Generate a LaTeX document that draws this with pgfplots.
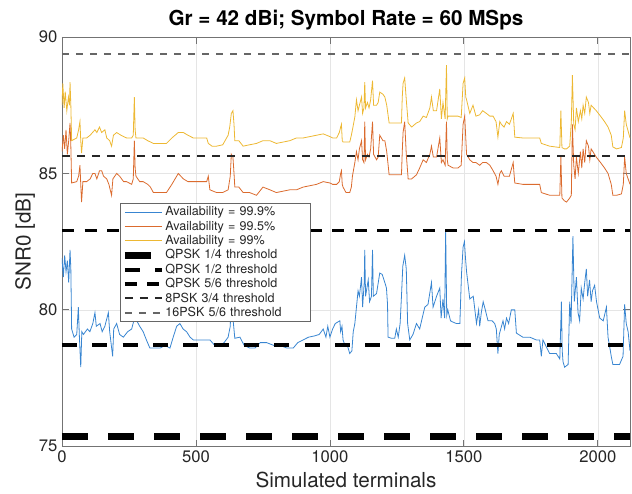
\documentclass[border=0pt]{standalone}
\usepackage{fontspec}
\setmainfont{TeX Gyre Heros}
\usepackage{pgfplots}
\pgfplotsset{compat=1.18}
\definecolor{mblue}{rgb}{0.22,0.52,0.82}
\definecolor{morange}{rgb}{0.86,0.42,0.18}
\definecolor{myellow}{rgb}{0.93,0.72,0.2}
\definecolor{axgray}{rgb}{0.15,0.15,0.15}
\begin{document}
\begin{tikzpicture}
\useasboundingbox (-46.5pt,-35pt) rectangle (427.5pt,334.75pt);
\begin{axis}[
  scale only axis, width=426pt, height=307pt,
  xmin=0, xmax=2120, ymin=75, ymax=90,
  xtick={0,500,1000,1500,2000}, ytick={75,80,85,90},
  grid=major, grid style={black!10, line width=0.5pt},
  axis line style={black!55, line width=0.7pt},
  tick align=inside, tick style={black!55, line width=0.6pt}, major tick length=5pt,
  ticklabel style={font=\fontsize{12.5}{14}\selectfont, text=axgray},
  /pgf/number format/assume math mode=true,
  /pgf/number format/1000 sep={},
  xlabel={Simulated terminals}, ylabel={SNR0 [dB]},
  xlabel style={font=\fontsize{15.5}{18}\selectfont, text=axgray, at={(axis description cs:0.5,0)}, anchor=center, yshift=-25pt},
  ylabel style={font=\fontsize{15.5}{18}\selectfont, text=axgray, at={(axis description cs:-0.065,0.5)}, anchor=center},
  title={Gr = 42 dBi; Symbol Rate = 60 MSps},
  title style={font=\fontsize{15.5}{18}\selectfont\bfseries, at={(axis description cs:0.5,1)}, anchor=center, yshift=7pt},
  legend cell align=left,
  legend style={at={(axis description cs:0.102,0.594)}, anchor=north west,
    font=\fontsize{9.4}{11}\selectfont, text=axgray, draw=black!60, fill=white,
    inner sep=1pt, row sep=0pt,
    nodes={inner sep=0.4pt, text height=7.8pt, text depth=2.2pt},
    /tikz/every even column/.append style={text width=107pt}},
  legend image code/.code={\draw[#1] (0pt,0pt) -- (27.5pt,0pt);},
]
\addplot[mblue, line width=0.6pt] coordinates {
(0,81.9)(5,81.2)(10,82.0)(15,81.4)(20,81.8)(25,81.0)(30,82.2)(33,81.5)(36,79.3)(45,79.0)(55,79.1)(61,80.1)(65,79.0)(70,77.9)(74,79.2)(80,79.1)(95,79.3)(104,79.2)(115,79.5)(123,79.9)(128,79.4)(142,79.5)(150,79.2)(160,79.4)(173,79.9)(178,79.2)(189,78.3)(193,79.3)(204,79.5)(215,79.1)(229,79.0)(245,79.2)(260,79.3)(268,79.6)(270,80.6)(273,79.6)(279,79.6)(290,79.4)(303,79.2)(315,78.9)(328,78.6)(345,78.6)(366,78.6)(385,78.7)(403,78.6)(415,79.0)(428,79.4)(440,79.5)(452,79.3)(465,79.2)(478,79.0)(490,78.9)(510,78.9)(533,78.9)(552,78.9)(570,78.7)(589,78.7)(605,78.8)(620,79.0)(628,79.4)(633,81.0)(637,79.8)(645,78.96)(664,79.0)(680,78.7)(701,78.6)(720,78.6)(740,78.8)(764,78.8)(790,78.7)(813,78.7)(840,78.6)(863,78.6)(880,78.8)(900,78.9)(920,79.0)(944,79.05)(960,79.1)(975,79.3)(985,79.0)(992,79.4)(1000,79.0)(1010,79.3)(1020,79.5)(1037,79.6)(1040,79.2)(1045,79.4)(1049,78.9)(1056,78.7)(1065,78.7)(1074,78.4)(1082,78.5)(1087,79.2)(1093,79.5)(1099,80.1)(1105,80.7)(1110,80.5)(1118,81.2)(1122,80.1)(1128,81.0)(1130,82.2)(1133,80.5)(1138,80.8)(1143,81.1)(1148,80.3)(1155,80.5)(1159,82.2)(1162,80.5)(1174,80.6)(1186,81.35)(1195,81.3)(1205,81.0)(1211,80.8)(1215,80.2)(1217,79.0)(1230,78.96)(1242,78.96)(1248,79.3)(1255,79.0)(1262,79.5)(1267,80.5)(1272,81.6)(1279,82.0)(1285,81.5)(1290,79.5)(1298,78.9)(1310,79.1)(1323,79.5)(1335,79.3)(1342,79.6)(1354,80.1)(1366,80.2)(1379,81.0)(1385,80.1)(1398,80.5)(1410,80.8)(1415,79.7)(1422,80.4)(1428,79.7)(1432,82.9)(1436,79.8)(1440,80.0)(1450,79.6)(1460,79.55)(1472,79.5)(1485,79.5)(1491,81.3)(1497,82.3)(1502,82.5)(1506,81.9)(1510,81.4)(1522,80.4)(1535,80.5)(1547,79.5)(1555,80.0)(1559,79.4)(1565,79.9)(1572,80.3)(1580,80.0)(1590,79.6)(1605,79.6)(1615,79.5)(1621,79.3)(1627,78.4)(1632,79.1)(1646,79.6)(1652,79.3)(1659,79.7)(1667,79.5)(1677,80.0)(1690,80.0)(1696,79.15)(1720,79.0)(1746,79.0)(1770,78.9)(1783,78.9)(1789,78.3)(1795,78.9)(1820,78.4)(1845,78.4)(1858,78.2)(1864,80.3)(1867,78.5)(1870,78.1)(1876,77.9)(1889,78.0)(1895,80.3)(1900,79.5)(1907,82.7)(1912,80.3)(1920,81.2)(1926,79.9)(1932,79.6)(1938,80.8)(1945,80.4)(1951,81.0)(1957,81.5)(1962,80.5)(1969,81.1)(1975,80.3)(1980,80.7)(1988,80.9)(1995,80.3)(2007,79.7)(2020,79.6)(2032,80.1)(2038,79.0)(2045,78.6)(2050,78.3)(2056,78.0)(2081,78.0)(2094,78.3)(2100,80.2)(2106,79.5)(2113,79.2)(2120,78.5)
};
\addlegendentry{Availability = 99.9\%}
\addplot[morange, line width=0.6pt] coordinates {
(0,85.8)(5,86.4)(10,85.9)(15,86.6)(20,85.7)(25,86.2)(30,86.85)(33,86.0)(36,84.65)(55,84.7)(62,84.9)(67,85.3)(70,84.6)(73,83.95)(78,84.7)(92,84.7)(105,84.8)(115,85.0)(123,85.0)(130,84.8)(140,85.1)(148,85.1)(155,84.9)(167,84.8)(175,84.6)(185,84.2)(190,84.8)(204,85.0)(215,84.9)(230,84.7)(241,84.7)(260,84.6)(266,84.8)(270,86.2)(273,85.2)(276,84.9)(290,84.7)(303,84.7)(320,84.6)(330,84.5)(341,84.3)(360,84.3)(390,84.3)(410,84.6)(434,85.0)(453,84.8)(470,84.7)(490,84.7)(515,84.7)(540,84.7)(546,84.9)(552,84.4)(577,84.3)(600,84.3)(620,84.4)(628,84.9)(632,85.7)(638,85.6)(642,85.0)(645,84.5)(660,84.5)(676,84.3)(700,84.3)(726,84.2)(750,84.5)(776,84.4)(800,84.3)(825,84.35)(850,84.4)(875,84.4)(900,84.5)(925,84.55)(950,84.6)(975,84.7)(1000,84.65)(1010,84.6)(1025,84.6)(1035,84.7)(1040,85.0)(1043,85.1)(1046,84.6)(1049,84.5)(1060,84.3)(1074,84.3)(1080,84.5)(1084,84.9)(1093,85.4)(1099,85.8)(1105,85.5)(1110,85.9)(1118,86.2)(1122,85.5)(1127,85.4)(1130,86.9)(1133,85.5)(1140,85.7)(1146,85.6)(1152,85.9)(1159,86.9)(1163,85.7)(1174,85.5)(1180,85.6)(1186,86.4)(1198,86.2)(1205,86.2)(1212,85.8)(1221,84.95)(1240,84.95)(1267,84.95)(1270,85.8)(1273,86.5)(1279,86.9)(1285,85.7)(1292,84.8)(1305,84.8)(1323,84.95)(1335,85.2)(1348,85.5)(1360,85.4)(1373,85.7)(1379,86.0)(1386,85.6)(1398,85.6)(1410,86.3)(1416,85.4)(1422,85.5)(1430,85.3)(1435,86.9)(1438,85.5)(1441,85.3)(1460,85.2)(1478,85.2)(1490,85.3)(1497,86.8)(1503,87.1)(1507,86.3)(1510,85.7)(1522,85.5)(1534,85.4)(1545,85.4)(1559,85.3)(1570,85.4)(1584,85.4)(1597,85.3)(1609,85.1)(1620,84.9)(1627,84.6)(1634,85.0)(1640,85.1)(1650,84.9)(1659,84.9)(1670,84.9)(1684,85.4)(1687,85.0)(1690,84.65)(1720,84.6)(1750,84.6)(1783,84.6)(1789,84.3)(1820,84.2)(1858,84.2)(1862,85.6)(1866,84.1)(1875,84.0)(1883,83.95)(1895,84.1)(1901,84.2)(1905,86.8)(1910,85.3)(1915,84.8)(1920,85.6)(1927,85.0)(1935,85.8)(1940,85.2)(1945,85.9)(1951,85.4)(1957,86.2)(1965,86.0)(1970,85.5)(1975,85.9)(1994,85.6)(2010,85.4)(2025,85.2)(2038,85.0)(2050,84.6)(2056,84.2)(2070,84.2)(2088,84.25)(2095,84.6)(2100,85.6)(2106,85.0)(2120,84.6)
};
\addlegendentry{Availability = 99.5\%}
\addplot[myellow, line width=0.6pt] coordinates {
(0,87.5)(3,88.3)(8,87.4)(12,88.0)(18,87.3)(24,87.8)(28,87.5)(30,88.35)(33,87.5)(36,86.2)(55,86.3)(62,86.6)(67,86.9)(70,86.2)(73,85.75)(78,86.3)(92,86.3)(105,86.4)(123,86.6)(130,86.5)(140,86.7)(148,86.5)(160,86.6)(167,86.3)(178,86.2)(185,86.0)(192,86.4)(204,86.5)(220,86.4)(241,86.3)(260,86.3)(266,86.4)(270,87.8)(273,86.6)(276,86.3)(290,86.3)(303,86.3)(320,86.2)(341,86.1)(360,86.1)(390,86.1)(410,86.3)(434,86.5)(453,86.5)(470,86.4)(490,86.3)(515,86.3)(540,86.3)(546,86.1)(560,86.0)(577,86.0)(600,86.05)(620,86.4)(626,86.7)(632,87.2)(638,87.3)(642,86.8)(645,86.2)(660,86.2)(676,86.0)(700,86.05)(726,86.1)(750,86.2)(776,86.2)(800,86.1)(825,86.15)(850,86.2)(875,86.3)(900,86.3)(925,86.35)(950,86.4)(975,86.45)(1000,86.35)(1010,86.3)(1025,86.3)(1035,86.5)(1040,86.7)(1043,86.8)(1046,86.2)(1049,86.15)(1074,86.15)(1080,86.4)(1084,86.6)(1093,87.07)(1099,87.7)(1105,87.3)(1110,87.5)(1118,87.8)(1122,87.2)(1127,87.4)(1130,88.35)(1133,87.4)(1140,87.6)(1146,87.4)(1152,87.7)(1159,88.4)(1163,87.5)(1174,87.5)(1180,87.6)(1186,87.98)(1198,87.9)(1205,87.8)(1212,87.5)(1221,86.85)(1240,86.85)(1267,86.85)(1270,87.8)(1273,88.3)(1279,88.5)(1285,87.7)(1292,86.85)(1305,86.7)(1323,86.85)(1335,86.9)(1348,87.1)(1360,87.05)(1373,87.4)(1379,87.8)(1386,87.3)(1398,87.3)(1410,88.1)(1416,87.0)(1422,87.6)(1430,87.0)(1435,88.97)(1438,87.0)(1441,87.1)(1460,87.1)(1478,87.1)(1490,87.05)(1497,88.3)(1503,88.5)(1507,87.8)(1510,87.7)(1522,87.2)(1534,87.5)(1545,87.1)(1559,87.15)(1570,87.3)(1584,87.2)(1597,87.1)(1609,87.1)(1620,86.9)(1627,86.33)(1634,86.9)(1640,86.8)(1650,86.7)(1659,86.9)(1670,86.8)(1684,87.2)(1687,86.8)(1690,86.33)(1720,86.3)(1750,86.3)(1783,86.3)(1789,86.1)(1820,86.0)(1858,85.95)(1862,87.3)(1866,85.95)(1875,85.9)(1883,85.9)(1895,86.0)(1901,86.9)(1905,88.6)(1910,86.8)(1915,86.6)(1920,87.4)(1927,86.9)(1935,87.3)(1940,87.0)(1945,87.5)(1951,87.2)(1957,87.8)(1965,87.6)(1970,87.2)(1975,87.5)(1994,87.3)(2010,87.1)(2025,86.9)(2038,86.7)(2050,86.4)(2056,85.97)(2070,85.9)(2088,85.95)(2095,86.3)(2100,87.3)(2106,86.8)(2120,86.3)
};
\addlegendentry{Availability = 99\%}
\addplot[black, line width=5pt, dash pattern=on 19.5pt off 15pt] coordinates {(0,75.35)(2120,75.35)};
\addlegendentry{QPSK 1/4 threshold}
\addplot[black, line width=3pt, dash pattern=on 11.25pt off 11.5pt] coordinates {(0,78.72)(2120,78.72)};
\addlegendentry{QPSK 1/2 threshold}
\addplot[black, line width=2.4pt, dash pattern=on 9pt off 7.9pt] coordinates {(0,82.9)(2120,82.9)};
\addlegendentry{QPSK 5/6 threshold}
\addplot[black!85, line width=1.6pt, dash pattern=on 6pt off 5.25pt] coordinates {(0,85.64)(2120,85.64)};
\addlegendentry{8PSK 3/4 threshold}
\addplot[black!60, line width=1.1pt, dash pattern=on 5.5pt off 5pt] coordinates {(0,89.38)(2120,89.38)};
\addlegendentry{16PSK 5/6 threshold}
\end{axis}
\end{tikzpicture}
\end{document}
